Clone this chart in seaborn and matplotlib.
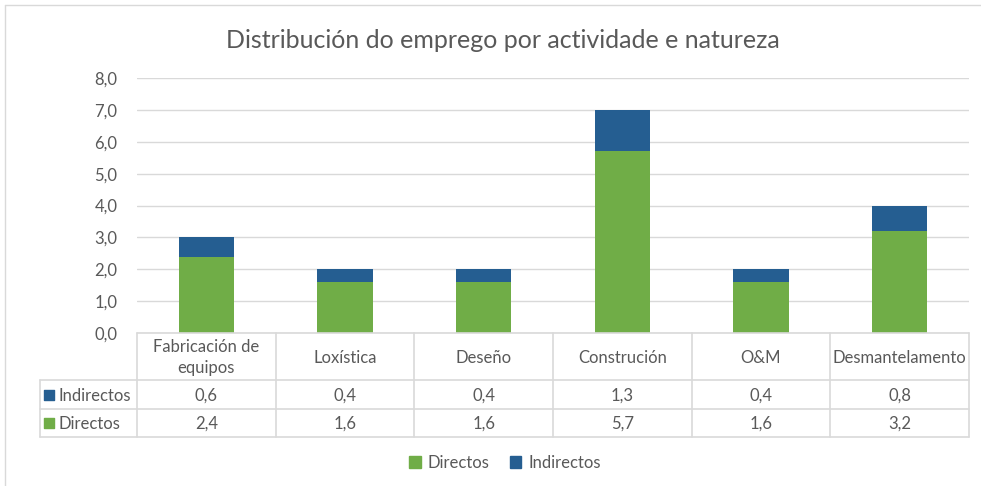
import matplotlib.pyplot as plt
import seaborn as sns
import pandas as pd
from matplotlib.patches import Patch
from matplotlib.lines import Line2D
from matplotlib.ticker import FuncFormatter

# datos
actividades = ["Fabricación de\nequipos", "Loxística", "Deseño", "Construción", "O&M", "Desmantelamento"]
directos = [2.4, 1.6, 1.6, 5.7, 1.6, 3.2]
indirectos = [0.6, 0.4, 0.4, 1.3, 0.4, 0.8]
y_ticks = [0, 1, 2, 3, 4, 5, 6, 7, 8]

VERDE = "#70AD47"
AZUL = "#255E91"
GRIS_TXT = "#595959"
GRIS_LIN = "#D9D9D9"

sns.set_style("white")
plt.rcParams["font.family"] = ["Lato", "DejaVu Sans"]

df = pd.DataFrame({"actividade": actividades, "Directos": directos, "Indirectos": indirectos})
df["total"] = df["Directos"] + df["Indirectos"]

W, H = 981, 486
fig = plt.figure(figsize=(W / 100, H / 100), dpi=100)

def px_rect(x0, y0, x1, y1):
    """Convierte coordenadas en pixeles (desde arriba) a rect de figura."""
    return [x0 / W, 1 - y1 / H, (x1 - x0) / W, (y1 - y0) / H]

# borde del grafico
fig.add_artist(Line2D([5 / W, 5 / W], [0, 1 - 5 / H], color=GRIS_LIN, lw=1))
fig.add_artist(Line2D([5 / W, 1], [1 - 5 / H, 1 - 5 / H], color=GRIS_LIN, lw=1))

# barras apiladas
ax = fig.add_axes(px_rect(137, 78, 969, 333))
sns.barplot(data=df, x="actividade", y="total", color=AZUL, width=0.4, saturation=1,
            linewidth=0, ax=ax)
sns.barplot(data=df, x="actividade", y="Directos", color=VERDE, width=0.4, saturation=1,
            linewidth=0, ax=ax)
ax.set_xlim(-0.5, 5.5)
ax.set_ylim(0, 8)
ax.set_yticks(y_ticks)
ax.yaxis.set_major_formatter(FuncFormatter(lambda v, p: f"{v:.1f}".replace(".", ",")))
ax.set_xticks([])
ax.set_xlabel("")
ax.set_ylabel("")
ax.grid(axis="y", color=GRIS_LIN, lw=1)
ax.set_axisbelow(True)
for s in ax.spines.values():
    s.set_visible(False)
ax.tick_params(axis="y", length=0, pad=14, labelsize=12, labelcolor=GRIS_TXT)

fig.text(503 / W, 1 - 40 / H, "Distribución do emprego por actividade e natureza",
         ha="center", va="center", fontsize=18, color=GRIS_TXT)

# tabla de datos
tx = fig.add_axes(px_rect(40, 333, 969, 438))
x_left = -0.5 - 97 / 138.67
tx.set_xlim(x_left, 5.5)
tx.set_ylim(105, 0)
tx.axis("off")
y_head, y_ind, y_dir, y_end = 0, 47, 76, 104
kw = dict(color=GRIS_LIN, lw=1.2, clip_on=False)
tx.plot([-0.5, 5.5], [y_head, y_head], **kw)
for yy in (y_ind, y_dir, y_end):
    tx.plot([x_left, 5.5], [yy, yy], **kw)
tx.plot([x_left, x_left], [y_ind, y_end], **kw)
for xx in [i - 0.5 for i in range(7)]:
    tx.plot([xx, xx], [y_head, y_end], **kw)

for i, nome in enumerate(actividades):
    tx.text(i, (y_head + y_ind) / 2 + 1, nome, ha="center", va="center", fontsize=12,
            color=GRIS_TXT, linespacing=1.45)
    tx.text(i, (y_ind + y_dir) / 2 + 1, f"{indirectos[i]:.1f}".replace(".", ","),
            ha="center", va="center", fontsize=12, color=GRIS_TXT)
    tx.text(i, (y_dir + y_end) / 2 + 1, f"{directos[i]:.1f}".replace(".", ","),
            ha="center", va="center", fontsize=12, color=GRIS_TXT)

for yy, nome, col in [((y_ind + y_dir) / 2, "Indirectos", AZUL), ((y_dir + y_end) / 2, "Directos", VERDE)]:
    tx.scatter([x_left + 9 / 138.67], [yy], marker="s", s=45, color=col, clip_on=False)
    tx.text(x_left + 19 / 138.67, yy + 1, nome, ha="left", va="center", fontsize=12, color=GRIS_TXT)

# leyenda
handles = [Patch(color=VERDE, label="Directos"), Patch(color=AZUL, label="Indirectos")]
leg = fig.legend(handles=handles, loc="center", bbox_to_anchor=(505 / W, 1 - 463 / H), ncol=2,
                 frameon=False, fontsize=12, handlelength=0.7, handleheight=0.7,
                 handletextpad=0.4, columnspacing=1.2)
for t in leg.get_texts():
    t.set_color(GRIS_TXT)

fig.savefig("out.png", dpi=100)
